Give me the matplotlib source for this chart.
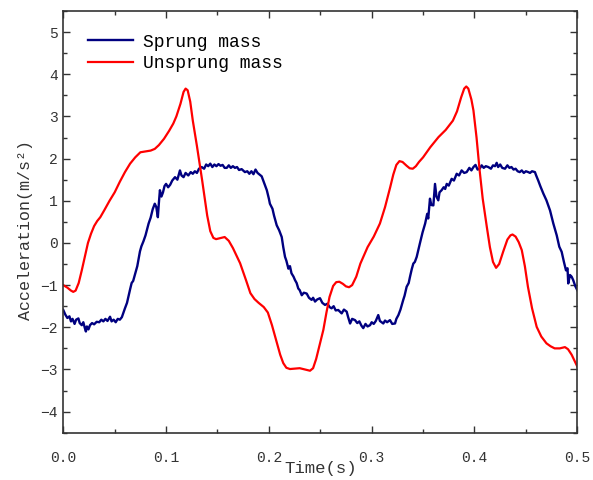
import matplotlib
matplotlib.use('Agg')
import matplotlib.pyplot as plt
from matplotlib.ticker import MultipleLocator

# values (time in s, acceleration in m/s^2)
sprung_t = [0.000, 0.002, 0.004, 0.006, 0.0075, 0.009, 0.011, 0.0125, 0.0147, 0.016,
            0.018, 0.0195, 0.021, 0.022, 0.023, 0.0245, 0.026, 0.028, 0.030, 0.0325,
            0.035, 0.037, 0.039, 0.041, 0.043, 0.0455, 0.047, 0.049, 0.051, 0.053,
            0.055, 0.057, 0.060, 0.062, 0.064, 0.065, 0.0665, 0.068, 0.070, 0.072,
            0.0746, 0.076, 0.078, 0.080, 0.083, 0.085, 0.087, 0.089, 0.0905, 0.092,
            0.093, 0.094, 0.0955, 0.097, 0.0985, 0.100, 0.102, 0.104, 0.106, 0.1087,
            0.111, 0.1135, 0.115, 0.117, 0.119, 0.1216, 0.124, 0.126, 0.128, 0.130,
            0.132, 0.1346, 0.137, 0.139, 0.141, 0.143, 0.145, 0.147, 0.149, 0.151,
            0.153, 0.155, 0.157, 0.159, 0.161, 0.163, 0.165, 0.167, 0.169, 0.171,
            0.1735, 0.1767, 0.179, 0.181, 0.183, 0.185, 0.187, 0.189, 0.191, 0.193,
            0.195, 0.198, 0.200, 0.201, 0.2035, 0.205, 0.2076, 0.210, 0.2125, 0.214,
            0.2157, 0.217, 0.219, 0.2205, 0.222, 0.224, 0.2254, 0.227, 0.2286, 0.230,
            0.232, 0.234, 0.2368, 0.239, 0.2416, 0.243, 0.2449, 0.247, 0.2497, 0.252,
            0.2546, 0.257, 0.259, 0.261, 0.263, 0.265, 0.2675, 0.2708, 0.273, 0.2757,
            0.277, 0.279, 0.281, 0.2838, 0.286, 0.288, 0.290, 0.2918, 0.294, 0.296,
            0.2984, 0.300, 0.302, 0.304, 0.3064, 0.308, 0.3113, 0.313, 0.315, 0.3178,
            0.320, 0.3227, 0.324, 0.326, 0.328, 0.3307, 0.332, 0.334, 0.336, 0.3373,
            0.339, 0.3405, 0.342, 0.3438, 0.3455, 0.347, 0.3495, 0.352, 0.354, 0.355,
            0.3567, 0.358, 0.360, 0.3616, 0.363, 0.3648, 0.366, 0.368, 0.370, 0.3715,
            0.373, 0.375, 0.3778, 0.380, 0.3827, 0.385, 0.3875, 0.390, 0.3924, 0.395,
            0.397, 0.399, 0.401, 0.403, 0.405, 0.407, 0.409, 0.411, 0.4134, 0.416,
            0.418, 0.420, 0.4216, 0.423, 0.425, 0.427, 0.4297, 0.432, 0.434, 0.436,
            0.438, 0.440, 0.442, 0.444, 0.446, 0.448, 0.450, 0.4523, 0.454, 0.456,
            0.4588, 0.460, 0.462, 0.464, 0.467, 0.470, 0.4735, 0.4767, 0.480, 0.4825,
            0.4848, 0.487, 0.489, 0.4905, 0.4912, 0.4929, 0.4945, 0.496, 0.498, 0.500]
sprung_a = [-1.59, -1.70, -1.78, -1.74, -1.86, -1.80, -1.92, -1.82, -1.79, -1.90,
            -1.95, -1.88, -2.02, -2.10, -1.98, -2.05, -1.95, -1.90, -1.93, -1.87,
            -1.88, -1.82, -1.86, -1.80, -1.85, -1.75, -1.86, -1.82, -1.88, -1.80,
            -1.82, -1.76, -1.55, -1.42, -1.20, -1.10, -0.95, -0.90, -0.72, -0.55,
            -0.20, -0.08, 0.04, 0.18, 0.46, 0.60, 0.80, 0.93, 0.85, 0.61,
            0.95, 1.25, 1.10, 1.20, 1.35, 1.40, 1.32, 1.38, 1.48, 1.56,
            1.50, 1.72, 1.60, 1.56, 1.66, 1.60, 1.68, 1.64, 1.70, 1.66,
            1.76, 1.80, 1.76, 1.86, 1.82, 1.88, 1.80, 1.86, 1.82, 1.87,
            1.83, 1.85, 1.78, 1.78, 1.84, 1.78, 1.82, 1.78, 1.80, 1.73,
            1.75, 1.68, 1.70, 1.64, 1.70, 1.63, 1.74, 1.66, 1.62, 1.58,
            1.45, 1.25, 1.05, 0.93, 0.81, 0.65, 0.42, 0.30, 0.14, -0.10,
            -0.33, -0.42, -0.61, -0.55, -0.72, -0.80, -0.88, -0.95, -1.08, -1.12,
            -1.24, -1.18, -1.20, -1.30, -1.35, -1.30, -1.39, -1.34, -1.31, -1.42,
            -1.47, -1.44, -1.52, -1.55, -1.50, -1.60, -1.59, -1.67, -1.58, -1.63,
            -1.75, -1.91, -1.80, -1.83, -1.90, -1.86, -1.96, -2.02, -1.92, -1.98,
            -1.95, -1.88, -1.92, -1.85, -1.71, -1.85, -1.91, -1.84, -1.88, -1.83,
            -1.92, -1.91, -1.80, -1.71, -1.58, -1.35, -1.25, -1.04, -0.95, -0.80,
            -0.62, -0.49, -0.45, -0.33, -0.15, 0.00, 0.25, 0.46, 0.69, 0.58,
            1.05, 0.90, 0.89, 1.40, 1.10, 1.01, 1.20, 1.25, 1.32, 1.28,
            1.40, 1.36, 1.52, 1.48, 1.64, 1.60, 1.72, 1.66, 1.68, 1.78,
            1.72, 1.80, 1.85, 1.74, 1.76, 1.84, 1.78, 1.82, 1.80, 1.76,
            1.84, 1.82, 1.90, 1.80, 1.86, 1.78, 1.76, 1.84, 1.78, 1.80,
            1.74, 1.76, 1.70, 1.68, 1.72, 1.66, 1.70, 1.68, 1.66, 1.70,
            1.68, 1.60, 1.48, 1.35, 1.17, 1.01, 0.77, 0.46, 0.18, -0.09,
            -0.21, -0.45, -0.65, -0.60, -0.96, -0.76, -0.80, -0.88, -1.02, -1.12]

unsprung_t = [0.000, 0.004, 0.0075, 0.0097, 0.012, 0.015, 0.018, 0.021, 0.024, 0.027,
              0.030, 0.033, 0.036, 0.040, 0.045, 0.050, 0.055, 0.060, 0.065, 0.070,
              0.075, 0.080, 0.085, 0.089, 0.093, 0.098, 0.103, 0.107, 0.110, 0.114,
              0.117, 0.119, 0.121, 0.1235, 0.126, 0.130, 0.135, 0.140, 0.143, 0.146,
              0.1486, 0.152, 0.157, 0.161, 0.165, 0.172, 0.178, 0.182, 0.186, 0.190,
              0.195, 0.199, 0.203, 0.207, 0.211, 0.214, 0.217, 0.2205, 0.225, 0.230,
              0.235, 0.240, 0.243, 0.246, 0.249, 0.253, 0.256, 0.259, 0.2625, 0.2655,
              0.2685, 0.272, 0.275, 0.278, 0.281, 0.285, 0.289, 0.296, 0.302, 0.308,
              0.313, 0.318, 0.321, 0.324, 0.327, 0.330, 0.334, 0.337, 0.340, 0.343,
              0.346, 0.350, 0.357, 0.365, 0.372, 0.379, 0.383, 0.387, 0.390, 0.392,
              0.394, 0.397, 0.399, 0.402, 0.405, 0.408, 0.412, 0.415, 0.418, 0.421,
              0.424, 0.428, 0.432, 0.435, 0.437, 0.440, 0.443, 0.446, 0.449, 0.452,
              0.456, 0.4605, 0.465, 0.470, 0.474, 0.478, 0.483, 0.488, 0.491, 0.4945,
              0.497, 0.500]
unsprung_a = [-1.00, -1.06, -1.13, -1.16, -1.13, -0.95, -0.65, -0.32, 0.00, 0.22,
              0.40, 0.52, 0.61, 0.78, 1.00, 1.20, 1.45, 1.68, 1.88, 2.03,
              2.15, 2.17, 2.19, 2.23, 2.32, 2.47, 2.66, 2.83, 3.00, 3.30,
              3.58, 3.66, 3.62, 3.35, 2.90, 2.30, 1.50, 0.65, 0.28, 0.12,
              0.09, 0.11, 0.14, 0.05, -0.12, -0.48, -0.90, -1.19, -1.33, -1.42,
              -1.52, -1.65, -1.95, -2.30, -2.65, -2.85, -2.96, -2.99, -2.98, -2.97,
              -3.00, -3.03, -2.97, -2.75, -2.45, -2.06, -1.65, -1.28, -1.02, -0.93,
              -0.92, -0.97, -1.03, -1.05, -1.00, -0.80, -0.49, -0.10, 0.15, 0.46,
              0.85, 1.32, 1.62, 1.85, 1.94, 1.92, 1.83, 1.77, 1.76, 1.82,
              1.92, 2.03, 2.27, 2.51, 2.68, 2.90, 3.12, 3.45, 3.66, 3.71,
              3.66, 3.40, 3.14, 2.50, 1.72, 1.05, 0.38, -0.10, -0.45, -0.59,
              -0.50, -0.20, 0.08, 0.18, 0.20, 0.15, 0.02, -0.17, -0.55, -1.04,
              -1.55, -1.99, -2.22, -2.38, -2.45, -2.50, -2.50, -2.47, -2.52, -2.65,
              -2.78, -2.93]

plt.rcParams['font.family'] = ['Liberation Mono', 'DejaVu Sans']

fig = plt.figure(figsize=(5.93, 4.8), dpi=100)
ax = fig.add_axes([0.1067, 0.0985, 0.8668, 0.8786])

ax.plot(sprung_t, sprung_a, color='#000080', lw=1.7, label='Sprung mass')
ax.plot(unsprung_t, unsprung_a, color='#ff0000', lw=1.6, label='Unsprung mass')

ax.set_xlim(0, 0.5)
ax.set_ylim(-4.5, 5.5)
ax.xaxis.set_major_locator(MultipleLocator(0.1))
ax.xaxis.set_minor_locator(MultipleLocator(0.05))
ax.yaxis.set_major_locator(MultipleLocator(1))
ax.yaxis.set_minor_locator(MultipleLocator(0.5))
ax.tick_params(which='both', direction='in', top=True, right=True, labelsize=10.5,
               width=1.0, colors='#333333', labelcolor='#333333')
ax.tick_params(which='major', length=5, pad=13)
ax.tick_params(which='minor', length=3)
ax.tick_params(axis='y', which='major', pad=4)
for s in ax.spines.values():
    s.set_linewidth(1.2)
    s.set_color('#333333')

ax.set_xlabel('Time(s)', fontsize=12.5, color='#333333')
ax.xaxis.set_label_coords(0.5, -0.068)
ax.set_ylabel('Acceleration(m/s²)', fontsize=12, color='#333333')
ax.yaxis.set_label_coords(-0.059, 0.48)

ax.legend(loc='upper left', bbox_to_anchor=(0.017, 0.985), frameon=False, fontsize=13,
          handlelength=2.5, handletextpad=0.55, labelspacing=0.25)

plt.savefig('out.png', dpi=100)
